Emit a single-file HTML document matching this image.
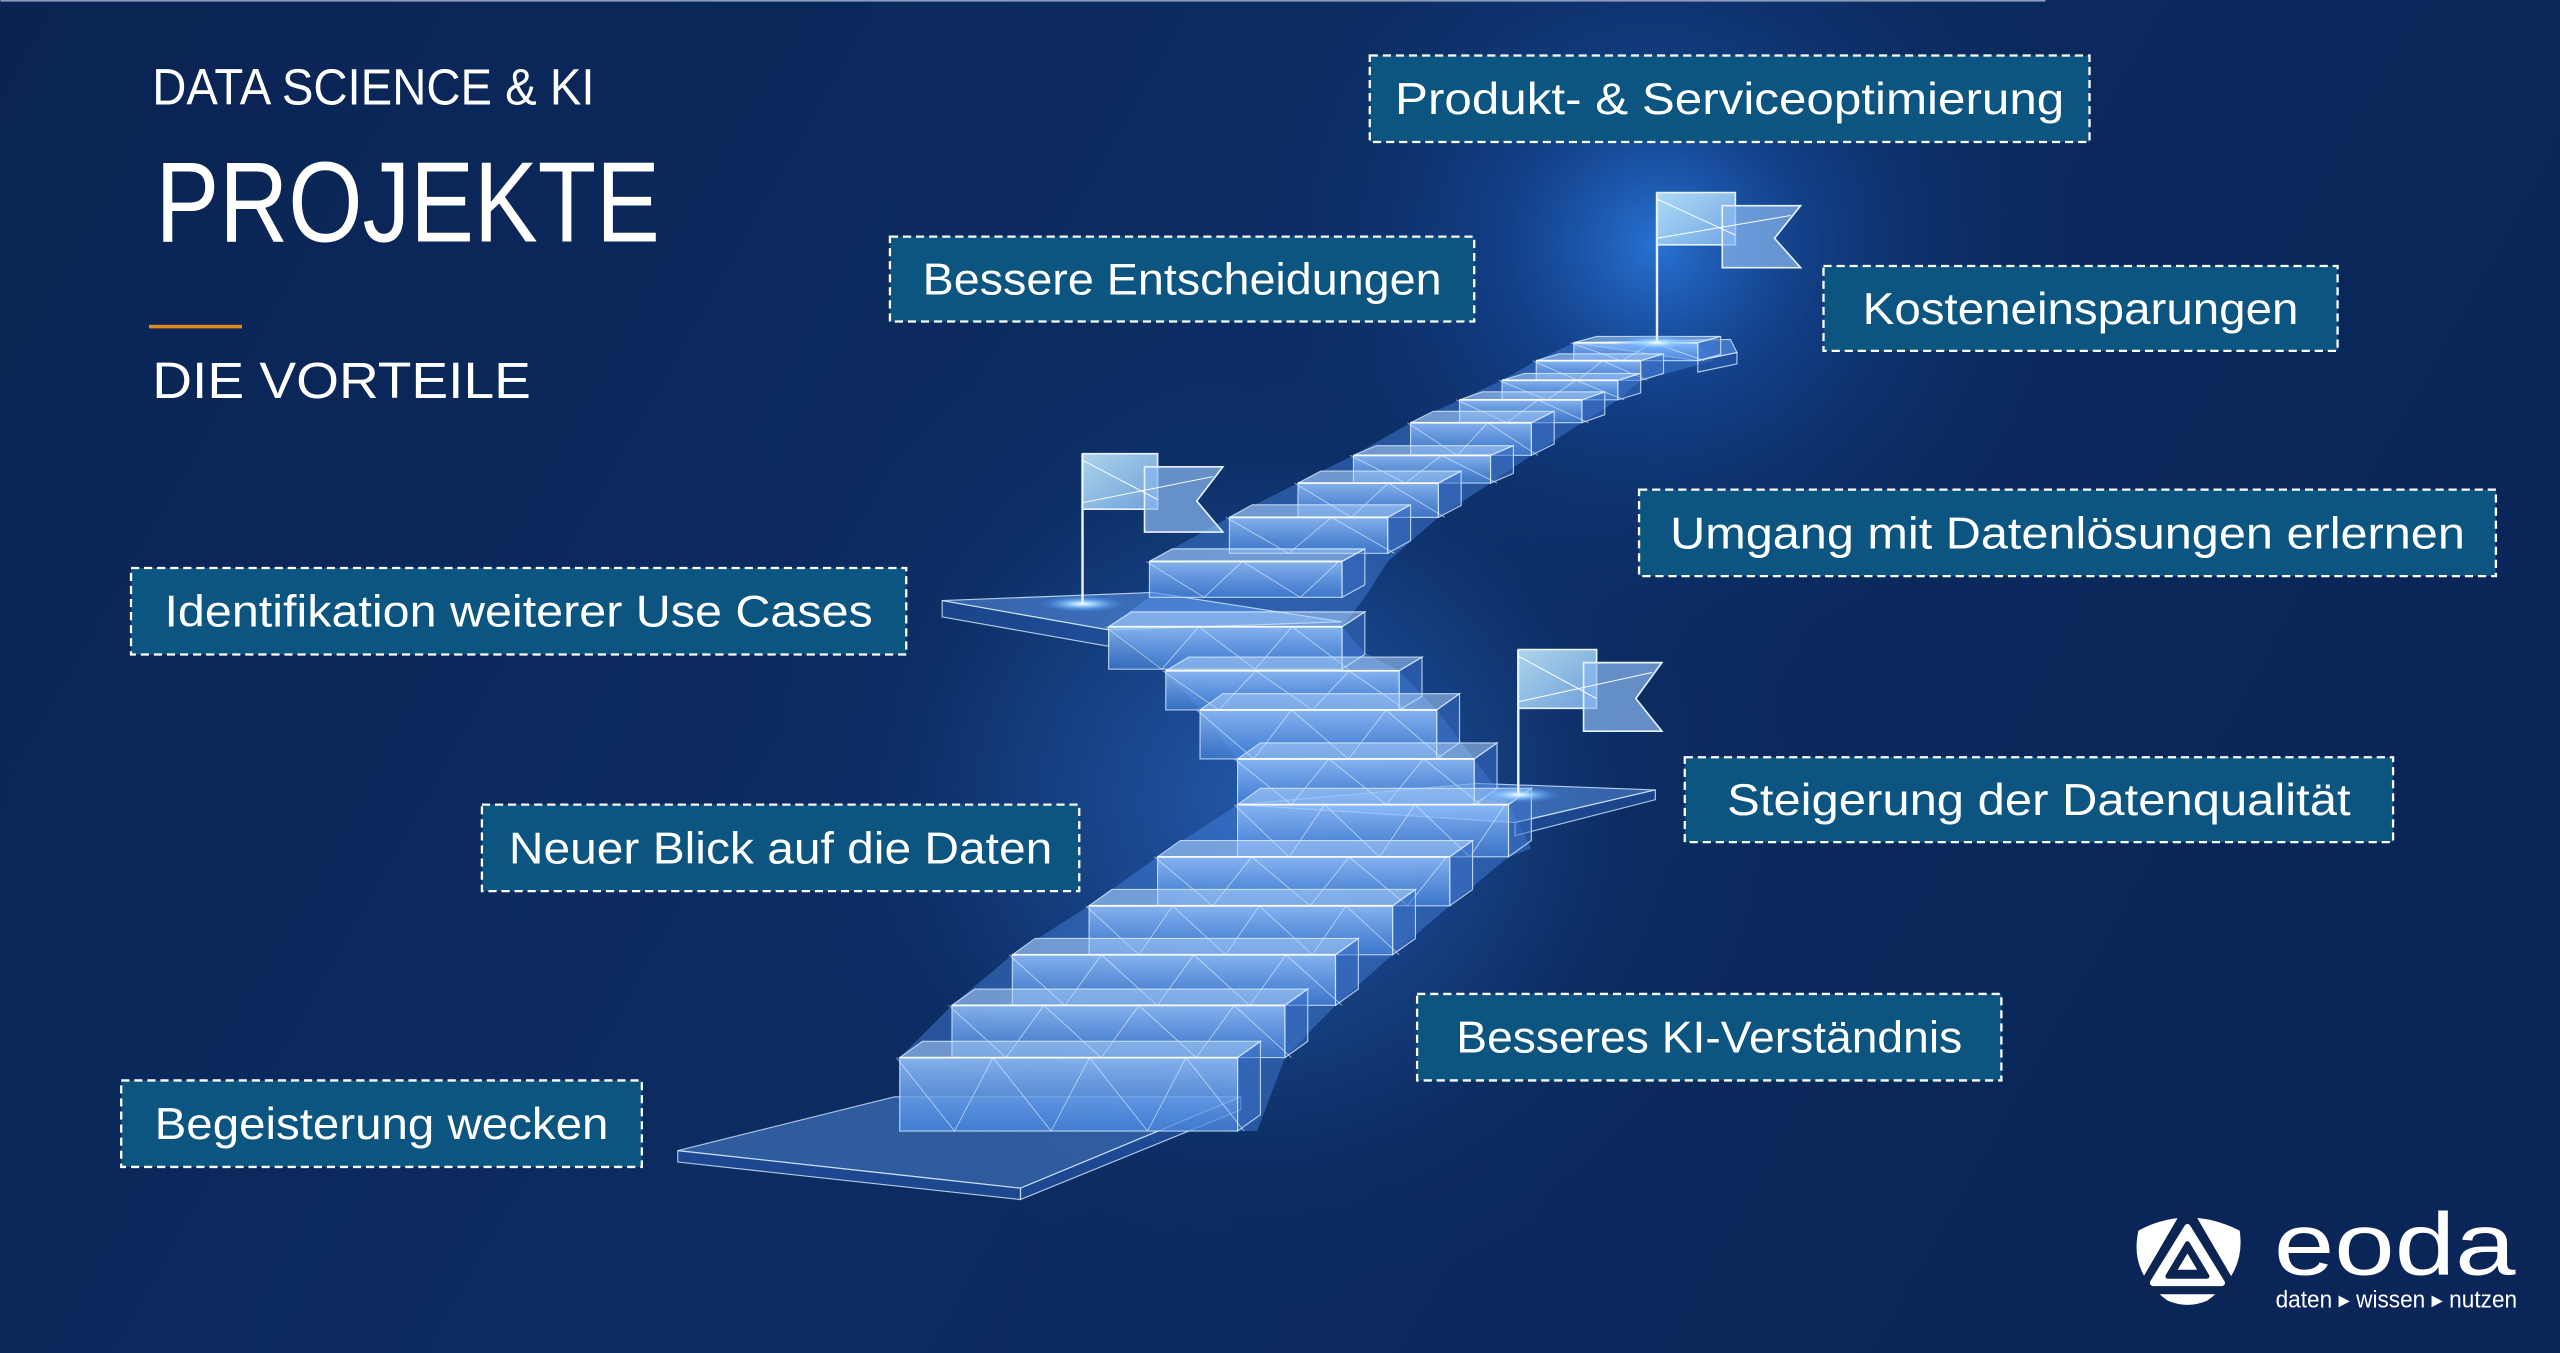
<!DOCTYPE html>
<html><head><meta charset="utf-8"><style>
html,body{margin:0;padding:0;background:#0b2452;overflow:hidden}
svg{display:block}
text{font-family:"Liberation Sans",sans-serif;fill:#fff}
</style></head><body>
<svg id="s" width="2560" height="1353" viewBox="0 0 1568 829" xmlns="http://www.w3.org/2000/svg">
<defs>
<linearGradient id="bg" x1="0" y1="0" x2="1" y2="0.3">
<stop offset="0" stop-color="#0a2352"/><stop offset="0.5" stop-color="#0c2c62"/><stop offset="1" stop-color="#0a2658"/></linearGradient>
<radialGradient id="g1" cx="1015" cy="150" r="260" gradientUnits="userSpaceOnUse">
<stop offset="0" stop-color="#2a7ae0" stop-opacity="0.9"/><stop offset="0.35" stop-color="#1a55b0" stop-opacity="0.5"/><stop offset="1" stop-color="#0c2c62" stop-opacity="0"/></radialGradient>
<radialGradient id="g2" cx="780" cy="480" r="330" gradientUnits="userSpaceOnUse">
<stop offset="0" stop-color="#1d58b0" stop-opacity="0.6"/><stop offset="1" stop-color="#0c2c62" stop-opacity="0"/></radialGradient>
<radialGradient id="g3" cx="770" cy="500" r="220" gradientUnits="userSpaceOnUse">
<stop offset="0" stop-color="#3a7ad8" stop-opacity="0.35"/><stop offset="1" stop-color="#3a7ad8" stop-opacity="0"/></radialGradient>
<radialGradient id="spot"><stop offset="0" stop-color="#fff"/><stop offset="0.3" stop-color="#9fd4ff" stop-opacity="0.9"/><stop offset="1" stop-color="#3a8aff" stop-opacity="0"/></radialGradient>
<linearGradient id="face" x1="0" y1="0" x2="0" y2="1"><stop offset="0" stop-color="#9cc8ff" stop-opacity="0.8"/><stop offset="1" stop-color="#4a88e0" stop-opacity="0.6"/></linearGradient>
<linearGradient id="flag" x1="0" y1="0" x2="1" y2="1"><stop offset="0" stop-color="#c8f0ff"/><stop offset="1" stop-color="#7fb4f0"/></linearGradient>
</defs>
<rect width="1568" height="829" fill="url(#bg)"/>
<rect width="1568" height="829" fill="url(#g2)"/>
<rect width="1568" height="829" fill="url(#g1)"/>
<rect width="1568" height="829" fill="url(#g3)"/>
<line x1="0" y1="0.5" x2="1253" y2="0.5" stroke="#8a9ab8" stroke-width="1"/>
<g id="stairs"></g>
<g id="flags"></g>

<text x="93" y="64" font-size="31" textLength="271" lengthAdjust="spacingAndGlyphs">DATA SCIENCE &amp; KI</text>
<text x="95" y="148" font-size="70" textLength="309" lengthAdjust="spacingAndGlyphs">PROJEKTE</text>
<rect x="91" y="199" width="57" height="2.2" fill="#e08a20"/>
<text x="93" y="244" font-size="31" textLength="232" lengthAdjust="spacingAndGlyphs">DIE VORTEILE</text>

<g id="boxes" font-size="27"></g>

<g>
<path d="M1310 754 Q1340 738 1372 754 Q1376 780 1352 797 Q1340 802 1328 797 Q1304 780 1310 754Z" fill="#fff"/>
<path d="M1340 742 L1368 790 L1312 790Z" fill="#0b2452" stroke="#0b2452" stroke-width="6" stroke-linejoin="round"/>
<path d="M1340 752 L1361 786 L1319 786Z" fill="#fff" stroke="#fff" stroke-width="4" stroke-linejoin="round"/>
<path d="M1340 762 L1352 782 L1328 782Z" fill="#0b2452" stroke="#0b2452" stroke-width="3" stroke-linejoin="round"/>
<path d="M1340 768 L1346 778 L1334 778Z" fill="#fff"/>
</g>
<text x="1393" y="781" font-size="54" textLength="148" lengthAdjust="spacingAndGlyphs">eoda</text>
<text x="1394" y="801" font-size="14.5" textLength="148" lengthAdjust="spacingAndGlyphs">daten ▸ wissen ▸ nutzen</text>
</svg>
<script>
var NS="http://www.w3.org/2000/svg";
function el(p,t,a,txt){var e=document.createElementNS(NS,t);for(var k in a)e.setAttribute(k,a[k]);if(txt)e.textContent=txt;p.appendChild(e);return e;}
var bx=document.getElementById('boxes');
[[839,34,1280,87,"Produkt- & Serviceoptimierung",410],
[545,145,903,197,"Bessere Entscheidungen",318],
[1117,163,1432,215,"Kosteneinsparungen",267],
[1004,300,1529,353,"Umgang mit Datenlösungen erlernen",487],
[80,348,555,401,"Identifikation weiterer Use Cases",434],
[1032,464,1466,516,"Steigerung der Datenqualität",382],
[295,493,661,546,"Neuer Blick auf die Daten",333],
[868,609,1226,662,"Besseres KI-Verständnis",310],
[74,662,393,715,"Begeisterung wecken",278]].forEach(function(b){
 el(bx,'rect',{x:b[0],y:b[1],width:b[2]-b[0],height:b[3]-b[1],fill:'#0b5580',stroke:'#fff','stroke-width':1.4,'stroke-dasharray':'5 3'});
 el(bx,'text',{x:(b[0]+b[2])/2,y:(b[1]+b[3])/2+9.5,'text-anchor':'middle',textLength:b[5],lengthAdjust:'spacingAndGlyphs'},b[4]);
});
var st=document.getElementById('stairs');
var L={stroke:'#d8ecff','stroke-width':0.7,'stroke-opacity':0.8};
function poly(pts,fill,op,nostroke){var a={points:pts.map(function(p){return p.join(',')}).join(' '),fill:fill,'fill-opacity':op};if(!nostroke)for(var k in L)a[k]=L[k];el(st,'polygon',a);}
poly([[415,705],[548,672],[760,672],[625,728]],'#5a96ec',0.45);
poly([[415,705],[625,728],[625,735],[415,712]],'#2a5cb0',0.6);
poly([[625,728],[760,672],[760,680],[625,735]],'#2a5cb0',0.6);
poly([[551,693],[551,648],[583,616],[620,585],[667,555],[709,525],[758,493],[924,493],[938,520],[924,525],[888,555],[853,585],[818,616],[787,648],[770,693]],'#4a86e0',0.45,true);
poly([[758,493],[758,465],[735,435],[714,411],[679,384],[822,384],[836,400],[857,411],[880,435],[903,465],[924,493]],'#4a86e0',0.45,true);
poly([[679,384],[704,366],[704,344],[753,317],[795,296],[829,279],[864,259],[894,245],[920,233],[941,221],[964,210],[1040,210],[1050,221],[1005,233],[991,245],[969,259],[938,279],[913,296],[881,317],[850,344],[836,366],[822,384]],'#4a86e0',0.45,true);
var steps=[[648,551,758,45],[616,583,787,32],[585,620,818,31],[555,667,853,30],[525,709,888,30],[493,758,924,32],
[465,758,903,28],[435,735,880,30],[411,714,857,24],[384,679,822,26],
[344,704,822,22],[317,753,850,22],[296,795,881,21],[279,829,913,17],[259,864,938,20],[245,894,969,14],[233,920,991,12],[221,941,1005,12],[210,964,1040,11]];
poly([[758,493],[905,480],[1014,484],[928,504]],'#6aa8ff',0.45);
poly([[928,504],[1014,484],[1014,490],[928,512]],'#2a5cb0',0.5);
poly([[577,368],[706,363],[822,381],[679,386]],'#6aa8ff',0.45);
poly([[577,368],[679,386],[679,396],[577,378]],'#2a5cb0',0.5);
poly([[964,210],[1060,208],[1064,216],[1040,221]],'#6aa8ff',0.5);
poly([[1040,221],[1064,216],[1064,223],[1040,228]],'#2a5cb0',0.5);
for(var i=steps.length-1;i>=0;i--){
 var s=steps[i],t=s[0],xl=s[1],xr=s[2],h=s[3];
 var d=Math.min(10,h*0.35);
 poly([[xr,t],[xr+14,t-d],[xr+14,t-d+h],[xr,t+h]],'#3b70c8',0.5);
 poly([[xl,t],[xr,t],[xr+14,t-d],[xl+14,t-d]],'#b8daff',0.5);
 poly([[xl,t],[xr,t],[xr,t+h],[xl,t+h]],'url(#face)',1);
 var n=Math.max(3,Math.round((xr-xl)/28));
 var pts=[];for(var j=0;j<=n;j++){var x=xl+(xr-xl)*j/n;pts.push([x+(j%2?4:-2),j%2?t+h:t]);}
 el(st,'polyline',{points:pts.map(function(p){return p.join(',')}).join(' '),fill:'none',stroke:'#e4f2ff','stroke-width':0.5,'stroke-opacity':0.7});
 el(st,'line',{x1:xl,y1:t,x2:xr,y2:t,stroke:'#ffffff','stroke-width':1.1,'stroke-opacity':0.9});
}
var fl=document.getElementById('flags');
[[1015,118,210,48,32,40],[663,278,370,46,34,40],[930,398,487,48,36,40]].forEach(function(f){
 var x=f[0],y=f[1],b=f[2],w=f[3],h=f[4],tw=f[5];
 el(fl,'ellipse',{cx:x,cy:b,rx:26,ry:5,fill:'url(#spot)'});
 el(fl,'line',{x1:x,y1:y,x2:x,y2:b,stroke:'#e8f2ff','stroke-width':1.5});
 el(fl,'polygon',{points:[x,y,x+w,y,x+w,y+h,x,y+h].join(','),fill:'url(#flag)','fill-opacity':0.85,stroke:'#e8f2ff','stroke-width':1});
 el(fl,'polygon',{points:[x+w-8,y+8,x+w+tw,y+8,x+w+tw-16,y+h/2+12,x+w+tw,y+h+14,x+w-8,y+h+14].join(','),fill:'#8ab8f0','fill-opacity':0.7,stroke:'#e8f2ff','stroke-width':1});
 el(fl,'line',{x1:x,y1:y+4,x2:x+w,y2:y+h-6,stroke:'#fff','stroke-width':0.6});
 el(fl,'line',{x1:x,y1:y+h-4,x2:x+w+tw-6,y2:y+14,stroke:'#fff','stroke-width':0.6});
});
</script>
</body></html>
